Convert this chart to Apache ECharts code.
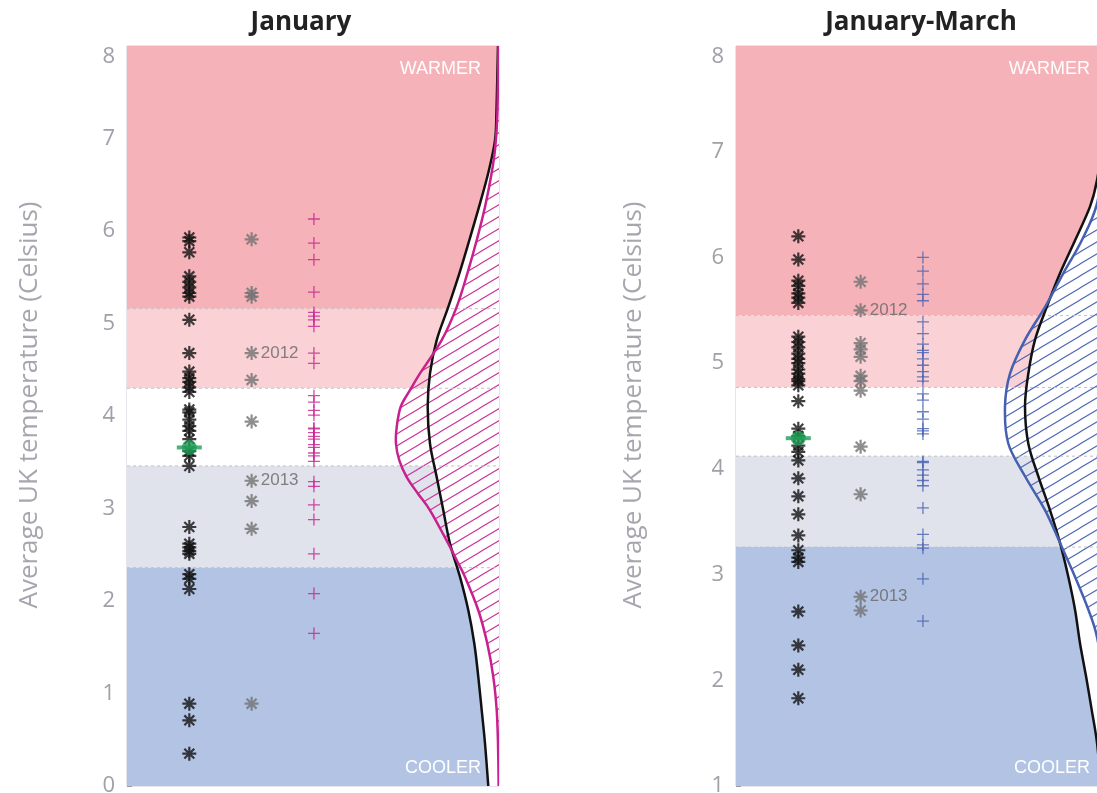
<!DOCTYPE html>
<html>
<head>
<meta charset="utf-8">
<script src="https://cdn.jsdelivr.net/npm/echarts@6/dist/echarts.min.js"></script>
<style>
  html, body { margin: 0; padding: 0; background: #ffffff; }
  #chart { width: 1097px; height: 793px; }
</style>
</head>
<body>
<div id="chart"></div>
<script>
// ---------- text ----------
const panelTitles = ['January', 'January-March'];
const yAxisName = 'Average UK temperature (Celsius)';
const warmText = 'WARMER';
const coolText = 'COOLER';

// ---------- January ----------
const janObserved = [5.93, 5.89, 5.77, 5.51, 5.45, 5.39, 5.33, 5.29, 5.04, 4.68, 4.48, 4.41, 4.37,
  4.31, 4.26, 4.07, 4.04, 3.96, 3.89, 3.84, 3.75, 3.62, 3.57, 3.46, 2.80, 2.62, 2.58, 2.54, 2.51,
  2.29, 2.24, 2.13, 0.89, 0.71, 0.35];
const janRecent = [5.91, 5.33, 5.29, 4.68, 4.39, 3.94, 3.30, 3.08, 2.78, 0.89];
const janRecentYears = ['2012', '2013'];
const janRecentYearTemps = [4.68, 3.30];
const janEnsemble = [6.13, 5.87, 5.69, 5.34, 5.12, 5.08, 5.04, 4.97, 4.68, 4.57, 4.22, 4.15, 4.06,
  4.01, 3.87, 3.86, 3.82, 3.78, 3.75, 3.69, 3.66, 3.60, 3.57, 3.51, 3.29, 3.24, 3.04, 2.88, 2.51,
  2.08, 1.65];
const janMean = 3.66;
const janBandEdges = [8, 5.16, 4.30, 3.46, 2.36, 0];
// [temperature, relative density]
const janClimatePdf = [[8.0, 0.01], [7.3, 0.025], [6.98, 0.04], [6.63, 0.107], [6.26, 0.20],
  [5.90, 0.297], [5.54, 0.397], [5.18, 0.507], [4.82, 0.623], [4.46, 0.69], [4.10, 0.713],
  [3.70, 0.69], [3.34, 0.623], [2.98, 0.557], [2.62, 0.49], [2.26, 0.39], [1.90, 0.307],
  [1.54, 0.247], [1.18, 0.207], [0.82, 0.173], [0.46, 0.14], [0.0, 0.107]];
const janForecastPdf = [[8.0, 0.005], [7.24, 0.017], [6.88, 0.04], [6.63, 0.073], [6.26, 0.14],
  [5.90, 0.223], [5.54, 0.317], [5.18, 0.423], [4.82, 0.573], [4.46, 0.79], [4.28, 0.89],
  [4.10, 0.983], [3.88, 1.023], [3.70, 1.03], [3.52, 0.997], [3.34, 0.923], [3.16, 0.81],
  [2.98, 0.69], [2.62, 0.507], [2.44, 0.423], [2.26, 0.34], [1.90, 0.207], [1.54, 0.117],
  [1.18, 0.057], [0.82, 0.023], [0.46, 0.01], [0.0, 0.003]];

// ---------- January-March ----------
const jfmObserved = [6.20, 5.98, 5.78, 5.73, 5.66, 5.62, 5.57, 5.25, 5.20, 5.15, 5.09, 5.04, 5.00,
  4.94, 4.90, 4.85, 4.83, 4.79, 4.64, 4.38, 4.31, 4.22, 4.16, 4.08, 3.91, 3.74, 3.57, 3.37, 3.23,
  3.16, 3.12, 2.65, 2.33, 2.10, 1.83];
const jfmRecent = [5.77, 5.50, 5.19, 5.13, 5.06, 4.88, 4.83, 4.74, 4.21, 3.76, 2.79, 2.66];
const jfmRecentYears = ['2012', '2013'];
const jfmRecentYearTemps = [5.50, 2.79];
const jfmEnsemble = [6.00, 5.87, 5.75, 5.65, 5.59, 5.39, 5.28, 5.18, 5.12, 5.10, 5.04, 4.98, 4.92,
  4.87, 4.83, 4.71, 4.65, 4.54, 4.47, 4.38, 4.36, 4.33, 4.07, 4.06, 3.99, 3.94, 3.89, 3.84, 3.63,
  3.38, 3.28, 3.25, 2.96, 2.56];
const jfmMean = 4.29;
const jfmBandEdges = [8, 5.45, 4.77, 4.12, 3.26, 1];
const jfmClimatePdf = [[8.0, 0.005], [7.2, 0.04], [6.73, 0.11], [6.48, 0.18], [6.16, 0.33],
  [5.85, 0.48], [5.53, 0.613], [5.22, 0.73], [4.90, 0.797], [4.59, 0.83], [4.24, 0.797],
  [3.93, 0.697], [3.61, 0.58], [3.30, 0.48], [2.98, 0.397], [2.67, 0.33], [2.35, 0.28],
  [2.04, 0.22], [1.72, 0.163], [1.41, 0.11], [1.0, 0.07]];
const jfmForecastPdf = [[8.0, 0.003], [7.5, 0.01], [7.0, 0.04], [6.51, 0.11], [6.16, 0.263],
  [5.85, 0.447], [5.53, 0.63], [5.22, 0.83], [4.90, 0.98], [4.59, 1.03], [4.24, 0.997],
  [3.93, 0.83], [3.61, 0.63], [3.30, 0.48], [2.98, 0.33], [2.67, 0.197], [2.41, 0.11],
  [2.0, 0.05], [1.5, 0.015], [1.0, 0.005]];

const yRanges = [[0, 8], [1, 8]];

// ---------- style ----------
const BAND_COLORS = ['#f5b3b9', '#fad2d5', '#ffffff', '#e0e2ec', '#b2c3e4'];
const FORECAST_COLORS = ['#c8208e', '#4660b0'];
const HATCH_COLORS = ['#cc3597', '#4f68b6'];
const X_MAX = 5.97;      // column axis extent
const PDF_MAX = 3.72;    // density axis extent (measured from the right edge)
const GRIDS = [
  { left: 127, top: 46, width: 372, height: 740 },
  { left: 736, top: 46, width: 372, height: 740 }
];
const FONT_SANS = '"Open Sans", "Noto Sans", sans-serif';
const FONT_HELV = '"Liberation Sans", Arial, sans-serif';
const ASTERISK = 'path://M0,-1L0,1M-1,0L1,0M-0.71,-0.71L0.71,0.71M-0.71,0.71L0.71,-0.71';
const PLUS = 'path://M0,-1L0,1M-1,0L1,0';

function hatchPattern(color) {
  const c = document.createElement('canvas');
  c.width = 20; c.height = 12;
  const g = c.getContext('2d');
  g.strokeStyle = color;
  g.lineWidth = 1.1;
  g.beginPath();
  for (let k = -1; k <= 1; k++) {
    g.moveTo(-5, 12 + 12 * k + 3);
    g.lineTo(25, 12 + 12 * k - 15);
  }
  g.stroke();
  return { image: c, repeat: 'repeat' };
}

// Catmull-Rom spline through pixel points, as cubic Bezier path data
function splinePath(p) {
  let d = 'M' + p[0][0] + ',' + p[0][1];
  for (let i = 0; i < p.length - 1; i++) {
    const p0 = p[i - 1] || p[i], p1 = p[i], p2 = p[i + 1], p3 = p[i + 2] || p[i + 1];
    const c1x = p1[0] + (p2[0] - p0[0]) / 6, c1y = p1[1] + (p2[1] - p0[1]) / 6;
    const c2x = p2[0] - (p3[0] - p1[0]) / 6, c2y = p2[1] - (p3[1] - p1[1]) / 6;
    d += 'C' + c1x + ',' + c1y + ',' + c2x + ',' + c2y + ',' + p2[0] + ',' + p2[1];
  }
  return d;
}

function pdfSeries(p, pts, mode, color, z) {
  return {
    type: 'custom', xAxisIndex: 2 * p + 1, yAxisIndex: p, silent: true, clip: true, z: z,
    data: pts.map(d => [d[1], d[0]]),
    renderItem: (params, api) => {
      if (params.dataIndex !== 0) return null;
      const px = pts.map(d => api.coord([d[1], d[0]]));
      const curve = splinePath(px);
      if (mode === 'line') {
        return { type: 'path', shape: { pathData: curve },
          style: { fill: 'none', stroke: color, lineWidth: 2.5 } };
      }
      const edgeTop = api.coord([0, pts[0][0]]);
      const edgeBot = api.coord([0, pts[pts.length - 1][0]]);
      const area = curve + 'L' + edgeBot[0] + ',' + edgeBot[1] + 'L' + edgeTop[0] + ',' + edgeTop[1] + 'Z';
      return { type: 'path', shape: { pathData: area },
        style: { fill: mode === 'white' ? '#ffffff' : hatchPattern(color), stroke: null } };
    }
  };
}

function panelSeries(p, d) {
  const list = [];
  // climate bands
  list.push({
    type: 'custom', xAxisIndex: 2 * p, yAxisIndex: p, silent: true, z: 1,
    data: d.bands.slice(0, -1).map((top, i) => [i, top, d.bands[i + 1]]),
    renderItem: (params, api) => {
      const i = api.value(0);
      const a = api.coord([0, api.value(1)]);
      const b = api.coord([X_MAX, api.value(2)]);
      return { type: 'rect', shape: { x: a[0], y: a[1], width: b[0] - a[0], height: b[1] - a[1] },
        style: { fill: BAND_COLORS[i] } };
    }
  });
  list.push(pdfSeries(p, d.climatePdf, 'white', '#ffffff', 2));
  list.push(pdfSeries(p, d.forecastPdf, 'hatch', HATCH_COLORS[p], 3));
  // dashed band boundaries
  list.push({
    type: 'custom', xAxisIndex: 2 * p, yAxisIndex: p, silent: true, z: 4,
    data: d.bands.slice(1, -1).map(t => [0, t]),
    renderItem: (params, api) => {
      const a = api.coord([0, api.value(1)]);
      const b = api.coord([X_MAX, api.value(1)]);
      return { type: 'line', shape: { x1: a[0], y1: a[1], x2: b[0], y2: b[1] },
        style: { stroke: '#c0c0c6', lineWidth: 1, lineDash: [3, 3] } };
    }
  });
  list.push(pdfSeries(p, d.climatePdf, 'line', '#111111', 5));
  list.push(pdfSeries(p, d.forecastPdf, 'line', FORECAST_COLORS[p], 6));
  // observed values
  list.push({
    type: 'scatter', xAxisIndex: 2 * p, yAxisIndex: p, silent: true, z: 7,
    symbol: ASTERISK, symbolSize: 14,
    itemStyle: { color: '#111111', borderColor: '#111111', borderWidth: 2.2 },
    data: d.observed.map(v => [1, v])
  });
  // recent years
  list.push({
    type: 'scatter', xAxisIndex: 2 * p, yAxisIndex: p, silent: true, z: 7,
    symbol: ASTERISK, symbolSize: 14,
    itemStyle: { color: '#727272', borderColor: '#727272', borderWidth: 2.2 },
    label: { show: false, position: 'right', distance: 1, color: '#666666',
      fontFamily: FONT_HELV, fontSize: 17 },
    data: d.recent.map(v => {
      const k = d.yearTemps.indexOf(v);
      if (k < 0) return [2, v];
      return { value: [2, v], label: { show: true, formatter: d.years[k] } };
    })
  });
  // ensemble members
  list.push({
    type: 'scatter', xAxisIndex: 2 * p, yAxisIndex: p, silent: true, z: 7,
    symbol: PLUS, symbolSize: 12,
    itemStyle: { color: FORECAST_COLORS[p], borderColor: FORECAST_COLORS[p], borderWidth: 1.3 },
    data: d.ensemble.map(v => [3, v])
  });
  // mean marker
  list.push({
    type: 'scatter', xAxisIndex: 2 * p, yAxisIndex: p, silent: true, z: 8,
    symbol: 'rect', symbolSize: [25, 4], itemStyle: { color: '#1f9d55' },
    data: [[1, d.mean]]
  });
  list.push({
    type: 'scatter', xAxisIndex: 2 * p, yAxisIndex: p, silent: true, z: 8,
    symbol: 'circle', symbolSize: 15, itemStyle: { color: '#1f9d55' },
    data: [[1, d.mean]]
  });
  return list;
}

const panels = [
  { observed: janObserved, recent: janRecent, years: janRecentYears, yearTemps: janRecentYearTemps,
    ensemble: janEnsemble, mean: janMean, bands: janBandEdges,
    climatePdf: janClimatePdf, forecastPdf: janForecastPdf },
  { observed: jfmObserved, recent: jfmRecent, years: jfmRecentYears, yearTemps: jfmRecentYearTemps,
    ensemble: jfmEnsemble, mean: jfmMean, bands: jfmBandEdges,
    climatePdf: jfmClimatePdf, forecastPdf: jfmForecastPdf }
];

const xAxes = [], yAxes = [], series = [], graphics = [];
panels.forEach((d, p) => {
  xAxes.push({ gridIndex: p, type: 'value', min: 0, max: X_MAX, show: false });
  xAxes.push({ gridIndex: p, type: 'value', min: 0, max: PDF_MAX, inverse: true, show: false });
  yAxes.push({
    gridIndex: p, type: 'value', min: yRanges[p][0], max: yRanges[p][1], interval: 1,
    axisLine: { show: false },
    axisTick: { show: true, inside: true, length: 5, lineStyle: { color: '#9a9aa2' } },
    axisLabel: { color: '#9fa0a8', fontSize: 22, fontFamily: FONT_SANS, margin: 12,
      verticalAlignMaxLabel: 'top' },
    splitLine: { show: false },
    name: yAxisName, nameLocation: 'middle', nameGap: p === 0 ? 84 : 89,
    nameTextStyle: { color: '#a6a7ae', fontSize: 26, fontFamily: FONT_SANS, padding: [0, 0, 0, 22] }
  });
  series.push(...panelSeries(p, d));
  const g = GRIDS[p];
  const right = g.left + g.width - 18;
  graphics.push({ type: 'text', x: right, y: 69, z: 100,
    style: { text: warmText, font: '18px ' + FONT_HELV, fill: '#ffffff', align: 'right', verticalAlign: 'middle' } });
  graphics.push({ type: 'text', x: right, y: 768, z: 100,
    style: { text: coolText, font: '18px ' + FONT_HELV, fill: '#ffffff', align: 'right', verticalAlign: 'middle' } });
});
graphics.push({ type: 'text', x: 301, y: 23,
  style: { text: panelTitles[0], font: 'bold 26px ' + FONT_SANS, fill: '#222222', align: 'center', verticalAlign: 'middle' } });
graphics.push({ type: 'text', x: 921, y: 23,
  style: { text: panelTitles[1], font: 'bold 26px ' + FONT_SANS, fill: '#222222', align: 'center', verticalAlign: 'middle' } });

const chart = echarts.init(document.getElementById('chart'), null, { renderer: 'canvas' });
chart.setOption({
  animation: false,
  backgroundColor: '#ffffff',
  grid: GRIDS.map(g => Object.assign({ show: true, borderColor: '#c9ccd6', borderWidth: 1,
    backgroundColor: 'transparent', outerBoundsMode: 'none', containLabel: false }, g)),
  xAxis: xAxes,
  yAxis: yAxes,
  series: series,
  graphic: graphics
});
</script>
</body>
</html>
